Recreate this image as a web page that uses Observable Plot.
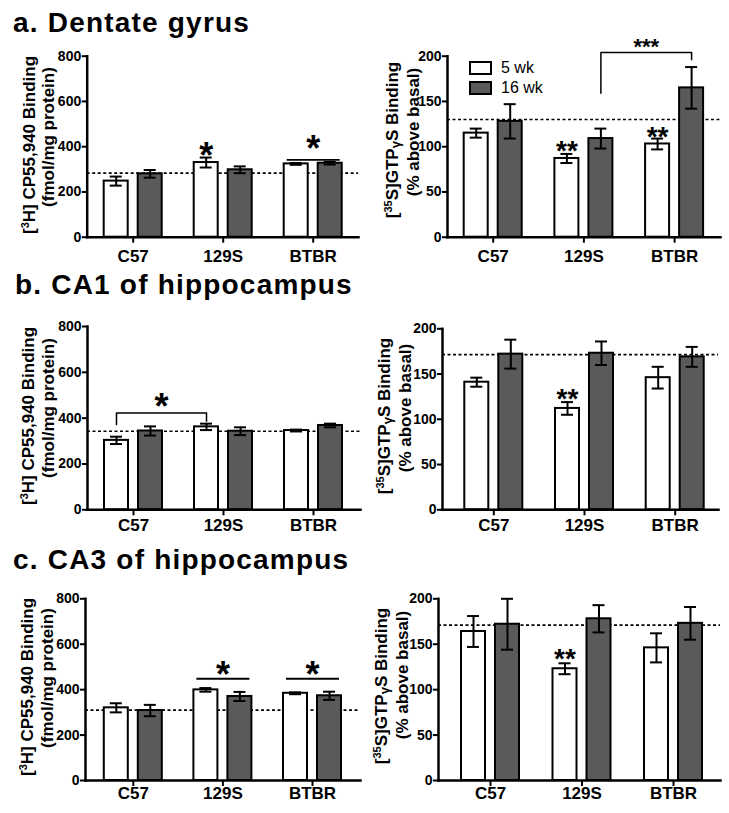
<!DOCTYPE html>
<html>
<head>
<meta charset="utf-8">
<script src="https://cdn.jsdelivr.net/npm/d3@7"></script>
<script src="https://cdn.jsdelivr.net/npm/@observablehq/plot@0.6"></script>
<style>
  body { margin: 0; background: #fff; }
  #root { position: relative; width: 729px; height: 813px; overflow: hidden; background: #fff;
          font-family: "Liberation Sans", Arial, Helvetica, sans-serif; color: #000; }
  .panel { position: absolute; }
  .title { position: absolute; font-weight: bold; font-size: 28px; letter-spacing: 1.2px;
           white-space: nowrap; line-height: 1; z-index: 2; }
  .ylab { position: absolute; font-weight: bold; font-size: 17px; white-space: nowrap; line-height: 1;
          transform: translate(-50%, -50%) rotate(-90deg); z-index: 2; }
  .ylab sup { font-size: 11px; vertical-align: 6px; line-height: 0; }
  .ylab .gam { font-size: 13px; position: relative; top: 2px; }
  .legbox { position: absolute; box-sizing: border-box; border: 2px solid #000; z-index: 2; }
  .legtxt { position: absolute; font-size: 16px; line-height: 1; white-space: nowrap; z-index: 2; }
</style>
</head>
<body>
<div id="root"></div>
<script>
const strains = ["C57", "129S", "BTBR"];
const ages = ["5 wk", "16 wk"];
const cpTicks = [0, 200, 400, 600, 800];
const gtpTicks = [0, 50, 100, 150, 200];

// a. Dentate gyrus
const dgCpMean5 = [248, 330, 324];
const dgCpErr5 = [20, 22, 4];
const dgCpMean16 = [280, 298, 327];
const dgCpErr16 = [17, 15, 6];
const dgCpRef = 283;
const dgGtpMean5 = [115, 87, 103];
const dgGtpErr5 = [5, 5, 6];
const dgGtpMean16 = [128, 109, 165];
const dgGtpErr16 = [19, 11, 23];
const dgGtpRef = 130;

// b. CA1
const ca1CpMean5 = [303, 362, 346];
const ca1CpErr5 = [16, 14, 4];
const ca1CpMean16 = [344, 343, 368];
const ca1CpErr16 = [20, 17, 8];
const ca1CpRef = 343;
const ca1GtpMean5 = [141, 112, 146];
const ca1GtpErr5 = [5, 7, 12];
const ca1GtpMean16 = [172, 173, 169];
const ca1GtpErr16 = [16, 13, 11];
const ca1GtpRef = 171.5;

// c. CA3
const ca3CpMean5 = [320, 399, 384];
const ca3CpErr5 = [20, 8, 4];
const ca3CpMean16 = [308, 370, 373];
const ca3CpErr16 = [25, 20, 18];
const ca3CpRef = 310;
const ca3GtpMean5 = [164, 123, 146];
const ca3GtpErr5 = [17, 6, 16];
const ca3GtpMean16 = [172, 178, 173];
const ca3GtpErr16 = [28, 15, 18];
const ca3GtpRef = 171;

// significance annotations
const dgCpStars = [{strain: "129S", pos: "5 wk", y: 396, text: "*", size: 36},
                   {strain: "BTBR", pos: "group", y: 427, text: "*", size: 36}];
const dgCpLines = [{strain: "BTBR", y: 342}];
const dgGtpStars = [{strain: "129S", pos: "5 wk", y: 103, text: "**", size: 28},
                    {strain: "BTBR", pos: "5 wk", y: 118, text: "**", size: 28},
                    {strain: "129S", pos: "mid16", y: 216, text: "***", size: 22}];
const dgGtpBracket = [{strain: "129S", y: 159}, {strain: "129S", y: 204}, {strain: "BTBR", y: 204}, {strain: "BTBR", y: 196}];

const ca1CpStars = [{strain: "C57", pos: "mid5", y: 484, text: "*", size: 36}];
const ca1CpBracket = [{strain: "C57", y: 372}, {strain: "C57", y: 422}, {strain: "129S", y: 422}, {strain: "129S", y: 387}];
const ca1GtpStars = [{strain: "129S", pos: "5 wk", y: 130, text: "**", size: 28}];

const ca3CpStars = [{strain: "129S", pos: "group", y: 499, text: "*", size: 36},
                    {strain: "BTBR", pos: "group", y: 499, text: "*", size: 36}];
const ca3CpLines = [{strain: "129S", y: 448}, {strain: "BTBR", y: 448}];
const ca3GtpStars = [{strain: "129S", pos: "5 wk", y: 141, text: "**", size: 28}];

const FONT = "Liberation Sans, Arial, Helvetica, sans-serif";
const GRAY = "#5a5a5a";
const root = document.getElementById("root");

function makePanel(cfg) {
  const {m5, e5, m16, e16, ref, ticks, ymax, left, top, w, h, axis, end, c0, step, plotTop, plotBottom, tp,
         stars = [], lines = [], bracket = null, bracketAge = "5 wk"} = cfg;
  const rows5 = strains.map((s, i) => ({strain: s, age: ages[0], mean: m5[i], err: e5[i]}));
  const rows16 = strains.map((s, i) => ({strain: s, age: ages[1], mean: m16[i], err: e16[i]}));
  const p = 1 - 58 / step;
  const off = 17;
  const marks = [
    Plot.ruleY([ref], {strokeDasharray: "3,2.5", strokeWidth: 1.6, stroke: "#000"}),
    Plot.barY(rows5, {x: "strain", y: "mean", fill: "white", stroke: "#000", strokeWidth: 2, insetRight: 34}),
    Plot.barY(rows16, {x: "strain", y: "mean", fill: GRAY, stroke: "#000", strokeWidth: 2, insetLeft: 34}),
    Plot.ruleX(rows5, {x: "strain", y1: d => d.mean - d.err, y2: d => d.mean + d.err, dx: -off, strokeWidth: 2}),
    Plot.ruleX(rows16, {x: "strain", y1: d => d.mean - d.err, y2: d => d.mean + d.err, dx: off, strokeWidth: 2}),
    Plot.tickY(rows5, {x: "strain", y: d => d.mean + d.err, insetLeft: 6, insetRight: 40, strokeWidth: 2}),
    Plot.tickY(rows5, {x: "strain", y: d => d.mean - d.err, insetLeft: 6, insetRight: 40, strokeWidth: 2}),
    Plot.tickY(rows16, {x: "strain", y: d => d.mean + d.err, insetLeft: 40, insetRight: 6, strokeWidth: 2}),
    Plot.tickY(rows16, {x: "strain", y: d => d.mean - d.err, insetLeft: 40, insetRight: 6, strokeWidth: 2}),
    Plot.frame({anchor: "left", strokeWidth: 2.5}),
    Plot.frame({anchor: "bottom", strokeWidth: 2.5}),
    Plot.axisY({ticks, tickSize: 5, tickPadding: 1, fontSize: 14, fontWeight: "bold", fontFamily: FONT, strokeWidth: 2, label: null}),
    Plot.axisX({tickSize: 6, tickPadding: tp, fontSize: 17, fontWeight: "bold", fontFamily: FONT, strokeWidth: 2, label: null})
  ];
  for (const ln of lines) {
    marks.push(Plot.tickY([ln], {x: "strain", y: "y", insetLeft: 3, insetRight: 2, strokeWidth: 1.8}));
  }
  if (bracket) {
    marks.push(Plot.line(bracket, {x: "strain", y: "y", dx: bracketAge === "5 wk" ? -off : off, strokeWidth: 1.5}));
  }
  for (const st of stars) {
    const dx = st.pos === "5 wk" ? -off : st.pos === "16 wk" ? off : st.pos === "mid5" ? -off + step / 2 : st.pos === "mid16" ? off + step / 2 : 0;
    marks.push(Plot.text([st], {x: "strain", y: "y", text: "text", dx, dy: 0.24 * st.size, fontSize: st.size,
      fontWeight: "bold", fontFamily: FONT, lineAnchor: "middle"}));
  }
  const svg = Plot.plot({
    width: w, height: h,
    marginLeft: axis - left, marginRight: left + w - end,
    marginTop: plotTop - top, marginBottom: top + h - plotBottom,
    style: {background: "transparent", overflow: "visible", fontFamily: FONT},
    x: {type: "band", domain: strains, range: [c0 - step / 2 - left, c0 + 2.5 * step - left],
        paddingInner: p, paddingOuter: p / 2, round: false, label: null},
    y: {domain: [0, ymax], label: null},
    marks
  });
  const div = document.createElement("div");
  div.className = "panel";
  div.style.left = left + "px";
  div.style.top = top + "px";
  div.appendChild(svg);
  root.appendChild(div);
  return svg;
}

function addTitle(text, x, baseline) {
  const d = document.createElement("div");
  d.className = "title";
  d.textContent = text;
  d.style.left = x + "px";
  d.style.top = (baseline - 23.7) + "px";
  root.appendChild(d);
}
function addYLab(html, cx, cy) {
  const d = document.createElement("div");
  d.className = "ylab";
  d.innerHTML = html;
  d.style.left = cx + "px";
  d.style.top = cy + "px";
  root.appendChild(d);
}
const cpLine1 = "[<sup>3</sup>H] CP55,940 Binding";
const cpLine2 = "(fmol/mg protein)";
const gtpLine1 = "[<sup>35</sup>S]GTP<span class='gam'>γ</span>S Binding";
const gtpLine2 = "(% above basal)";

// a. Dentate gyrus
addTitle("a. Dentate gyrus", 13, 32.7);
makePanel({m5: dgCpMean5, e5: dgCpErr5, m16: dgCpMean16, e16: dgCpErr16, ref: dgCpRef, ticks: cpTicks, ymax: 800,
  left: 0, top: 28, w: 370, h: 242, axis: 86.7, end: 358, c0: 132.7, step: 90, plotTop: 55.7, plotBottom: 236.7, tp: 7,
  stars: dgCpStars, lines: dgCpLines});
makePanel({m5: dgGtpMean5, e5: dgGtpErr5, m16: dgGtpMean16, e16: dgGtpErr16, ref: dgGtpRef, ticks: gtpTicks, ymax: 200,
  left: 370, top: 28, w: 359, h: 242, axis: 447, end: 720, c0: 492.7, step: 90.7, plotTop: 55.7, plotBottom: 236.7, tp: 7,
  stars: dgGtpStars, bracket: dgGtpBracket, bracketAge: "16 wk"});
addYLab(cpLine1, 29, 145); addYLab(cpLine2, 48, 137);
addYLab(gtpLine1, 392, 140); addYLab(gtpLine2, 413, 132);

// legend
[["5 wk", "white", 61, 13.5], ["16 wk", GRAY, 81, 14]].forEach(([lab, fill, y, hh]) => {
  const b = document.createElement("div");
  b.className = "legbox";
  b.style.cssText = `left:469px;top:${y}px;width:23px;height:${hh}px;background:${fill};`;
  root.appendChild(b);
  const t = document.createElement("div");
  t.className = "legtxt";
  t.textContent = lab;
  t.style.left = "501px";
  t.style.top = (y + hh / 2 - 8) + "px";
  root.appendChild(t);
});

// b. CA1
addTitle("b. CA1 of hippocampus", 15, 295);
makePanel({m5: ca1CpMean5, e5: ca1CpErr5, m16: ca1CpMean16, e16: ca1CpErr16, ref: ca1CpRef, ticks: cpTicks, ymax: 800,
  left: 0, top: 300, w: 370, h: 245, axis: 87, end: 360, c0: 133, step: 90, plotTop: 326, plotBottom: 509.3, tp: 3,
  stars: ca1CpStars, bracket: ca1CpBracket, bracketAge: "5 wk"});
makePanel({m5: ca1GtpMean5, e5: ca1GtpErr5, m16: ca1GtpMean16, e16: ca1GtpErr16, ref: ca1GtpRef, ticks: gtpTicks, ymax: 200,
  left: 370, top: 300, w: 359, h: 245, axis: 442, end: 718, c0: 493.3, step: 90.7, plotTop: 328.3, plotBottom: 509.3, tp: 3,
  stars: ca1GtpStars});
addYLab(cpLine1, 28, 416); addYLab(cpLine2, 48, 408);
addYLab(gtpLine1, 384, 416); addYLab(gtpLine2, 405, 408);

// c. CA3
addTitle("c. CA3 of hippocampus", 13, 570);
makePanel({m5: ca3CpMean5, e5: ca3CpErr5, m16: ca3CpMean16, e16: ca3CpErr16, ref: ca3CpRef, ticks: cpTicks, ymax: 800,
  left: 0, top: 578, w: 370, h: 235, axis: 85, end: 360, c0: 132.8, step: 89.6, plotTop: 598.3, plotBottom: 780, tp: 0,
  stars: ca3CpStars, lines: ca3CpLines});
makePanel({m5: ca3GtpMean5, e5: ca3GtpErr5, m16: ca3GtpMean16, e16: ca3GtpErr16, ref: ca3GtpRef, ticks: gtpTicks, ymax: 200,
  left: 370, top: 578, w: 359, h: 235, axis: 438, end: 720, c0: 490, step: 91.5, plotTop: 598.3, plotBottom: 780, tp: 0,
  stars: ca3GtpStars});
addYLab(cpLine1, 27, 687); addYLab(cpLine2, 47, 678);
addYLab(gtpLine1, 381, 686); addYLab(gtpLine2, 402, 675);
</script>
</body>
</html>
